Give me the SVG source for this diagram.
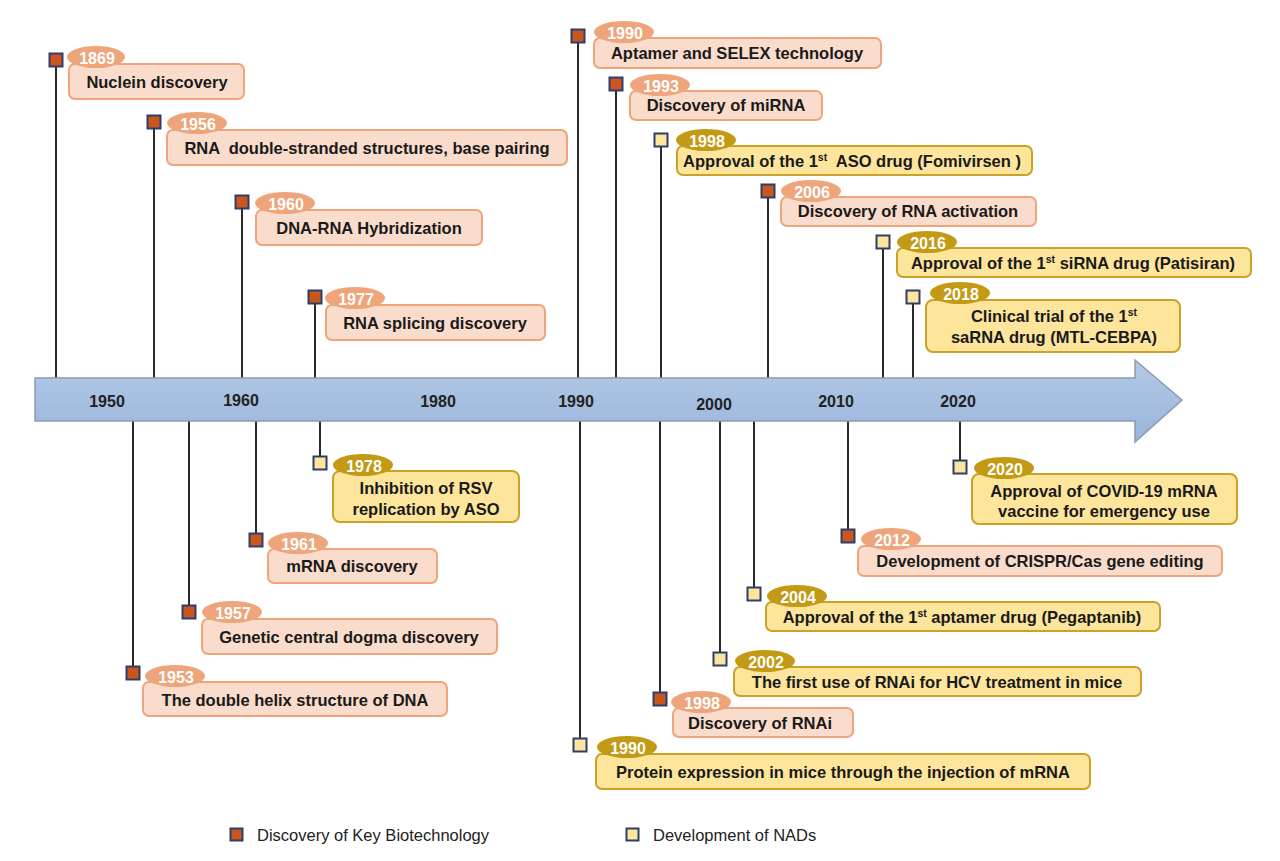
<svg xmlns="http://www.w3.org/2000/svg" width="1280" height="861" viewBox="0 0 1280 861">
<defs>
<linearGradient id="ag" x1="0" y1="0" x2="0" y2="1">
<stop offset="0" stop-color="#b3c9e6"/>
<stop offset="1" stop-color="#9ab5db"/>
</linearGradient>
</defs>
<style>
.t{font-family:"Liberation Sans",Arial,sans-serif;font-weight:bold;font-size:16.5px;fill:#1a1a1a;text-anchor:middle}
.ax{font-family:"Liberation Sans",Arial,sans-serif;font-weight:bold;font-size:16px;fill:#222;text-anchor:middle}
.yr{font-family:"Liberation Sans",Arial,sans-serif;font-weight:bold;font-size:16px;fill:#fff;text-anchor:middle}
.lg{font-family:"Liberation Sans",Arial,sans-serif;font-size:16.5px;fill:#222}
.bo{fill:#f9dccb;stroke:#efa47b;stroke-width:2}
.by{fill:#fde59c;stroke:#c9a227;stroke-width:2}
.po{fill:#efa57c}
.py{fill:#c39a15}
.mo{fill:#c9561c;stroke:#2e3e6c;stroke-width:2}
.my{fill:#fde59c;stroke:#2e3e6c;stroke-width:2}
.ln{stroke:#2a2a2a;stroke-width:2;fill:none}
.sup{font-size:10.5px}
</style>
<rect width="1280" height="861" fill="#fff"/>

<g id="connectors">
<path class="ln" d="M56,67V378M154,129V378M242,209V378M315,304V378M578,43V378M616,91V378M661,147V378M768,198V378M883,249V378M913,304V378"/>
<path class="ln" d="M320,421V456M256,421V533M189,421V605M133,421V666M580,421V738M660,421V692M720,421V652M754,421V587M848,421V529M960,421V460"/>
</g>

<g id="axis">
<path d="M35,378H1135V360L1182,400L1135,442V421H35Z" fill="url(#ag)" stroke="#8c9cb0" stroke-width="1.5"/>
<text class="ax" x="107" y="407">1950</text>
<text class="ax" x="241" y="406">1960</text>
<text class="ax" x="438" y="407">1980</text>
<text class="ax" x="576" y="407">1990</text>
<text class="ax" x="714" y="410">2000</text>
<text class="ax" x="836" y="407">2010</text>
<text class="ax" x="958" y="407">2020</text>
</g>

<g id="n1869">
<rect class="bo" x="69" y="64" width="175" height="35" rx="6"/>
<ellipse class="po" cx="96" cy="57" rx="29" ry="11"/>
<text class="yr" x="97" y="64">1869</text>
<text class="t" x="157" y="88">Nuclein discovery</text>
<rect class="mo" x="49.5" y="53.5" width="13" height="13"/>
</g>

<g id="n1956">
<rect class="bo" x="167" y="130" width="400" height="35" rx="6"/>
<ellipse class="po" cx="197" cy="123" rx="30" ry="11"/>
<text class="yr" x="198" y="130">1956</text>
<text class="t" x="367" y="154" xml:space="preserve">RNA  double-stranded structures, base pairing</text>
<rect class="mo" x="147.5" y="115.5" width="13" height="13"/>
</g>

<g id="n1960">
<rect class="bo" x="256" y="210" width="226" height="35" rx="6"/>
<ellipse class="po" cx="285" cy="203" rx="30" ry="11"/>
<text class="yr" x="286" y="210">1960</text>
<text class="t" x="369" y="234">DNA-RNA Hybridization</text>
<rect class="mo" x="235.5" y="195.5" width="13" height="13"/>
</g>

<g id="n1977">
<rect class="bo" x="326" y="305" width="219" height="35" rx="6"/>
<ellipse class="po" cx="355" cy="298" rx="30" ry="11"/>
<text class="yr" x="356" y="305">1977</text>
<text class="t" x="435" y="329">RNA splicing discovery</text>
<rect class="mo" x="308.5" y="290.5" width="13" height="13"/>
</g>

<g id="n1990a">
<rect class="bo" x="594" y="38" width="287" height="30" rx="6"/>
<ellipse class="po" cx="624" cy="32" rx="30" ry="11"/>
<text class="yr" x="625" y="39">1990</text>
<text class="t" x="737" y="59">Aptamer and SELEX technology</text>
<rect class="mo" x="571.5" y="29.5" width="13" height="13"/>
</g>

<g id="n1993">
<rect class="bo" x="630" y="91" width="192" height="29" rx="6"/>
<ellipse class="po" cx="660" cy="85" rx="30" ry="11"/>
<text class="yr" x="661" y="92">1993</text>
<text class="t" x="726" y="111">Discovery of miRNA</text>
<rect class="mo" x="609.5" y="77.5" width="13" height="13"/>
</g>

<g id="n1998a">
<rect class="by" x="677" y="146" width="355" height="29" rx="6"/>
<ellipse class="py" cx="706" cy="140" rx="30" ry="11"/>
<text class="yr" x="707" y="147">1998</text>
<text class="t" x="852" y="167" xml:space="preserve">Approval of the 1<tspan class="sup" dy="-6">st</tspan><tspan dy="6">  ASO drug (Fomivirsen )</tspan></text>
<rect class="my" x="654.5" y="133.5" width="13" height="13"/>
</g>

<g id="n2006">
<rect class="bo" x="781" y="197" width="255" height="29" rx="6"/>
<ellipse class="po" cx="811" cy="191" rx="30" ry="11"/>
<text class="yr" x="812" y="198">2006</text>
<text class="t" x="908" y="217">Discovery of RNA activation</text>
<rect class="mo" x="761.5" y="184.5" width="13" height="13"/>
</g>

<g id="n2016">
<rect class="by" x="897" y="248" width="354" height="29" rx="6"/>
<ellipse class="py" cx="927" cy="242" rx="30" ry="11"/>
<text class="yr" x="928" y="249">2016</text>
<text class="t" x="1073" y="269">Approval of the 1<tspan class="sup" dy="-6">st</tspan><tspan dy="6"> siRNA drug (Patisiran)</tspan></text>
<rect class="my" x="876.5" y="235.5" width="13" height="13"/>
</g>

<g id="n2018">
<rect class="by" x="926" y="300" width="254" height="52" rx="7"/>
<ellipse class="py" cx="960" cy="293" rx="30" ry="11"/>
<text class="yr" x="961" y="300">2018</text>
<text class="t" x="1054" y="322">Clinical trial of the 1<tspan class="sup" dy="-6">st</tspan></text>
<text class="t" x="1054" y="343">saRNA drug (MTL-CEBPA)</text>
<rect class="my" x="906.5" y="290.5" width="13" height="13"/>
</g>

<g id="n1978">
<rect class="by" x="333" y="471" width="186" height="51" rx="7"/>
<ellipse class="py" cx="363" cy="465" rx="30" ry="11"/>
<text class="yr" x="364" y="472">1978</text>
<text class="t" x="426" y="494">Inhibition of RSV</text>
<text class="t" x="426" y="515">replication by ASO</text>
<rect class="my" x="313.5" y="456.5" width="13" height="13"/>
</g>

<g id="n1961">
<rect class="bo" x="268" y="549" width="169" height="34" rx="6"/>
<ellipse class="po" cx="298" cy="543" rx="30" ry="11"/>
<text class="yr" x="299" y="550">1961</text>
<text class="t" x="352" y="572">mRNA discovery</text>
<rect class="mo" x="249.5" y="533.5" width="13" height="13"/>
</g>

<g id="n1957">
<rect class="bo" x="202" y="619" width="295" height="35" rx="6"/>
<ellipse class="po" cx="232" cy="612" rx="30" ry="11"/>
<text class="yr" x="233" y="619">1957</text>
<text class="t" x="349" y="643">Genetic central dogma discovery</text>
<rect class="mo" x="182.5" y="605.5" width="13" height="13"/>
</g>

<g id="n1953">
<rect class="bo" x="143" y="682" width="304" height="34" rx="6"/>
<ellipse class="po" cx="175" cy="676" rx="30" ry="11"/>
<text class="yr" x="176" y="683">1953</text>
<text class="t" x="295" y="706">The double helix structure of DNA</text>
<rect class="mo" x="126.5" y="666.5" width="13" height="13"/>
</g>

<g id="n1990b">
<rect class="by" x="596" y="754" width="494" height="35" rx="6"/>
<ellipse class="py" cx="627" cy="747" rx="30" ry="11"/>
<text class="yr" x="628" y="754">1990</text>
<text class="t" x="843" y="778">Protein expression in mice through the injection of mRNA</text>
<rect class="my" x="573.5" y="738.5" width="13" height="13"/>
</g>

<g id="n1998b">
<rect class="bo" x="673" y="708" width="180" height="29" rx="6"/>
<ellipse class="po" cx="701" cy="702" rx="30" ry="11"/>
<text class="yr" x="702" y="709">1998</text>
<text class="t" x="760" y="729">Discovery of RNAi</text>
<rect class="mo" x="653.5" y="692.5" width="13" height="13"/>
</g>

<g id="n2002">
<rect class="by" x="734" y="667" width="407" height="29" rx="6"/>
<ellipse class="py" cx="765" cy="661" rx="30" ry="11"/>
<text class="yr" x="766" y="668">2002</text>
<text class="t" x="937" y="688">The first use of RNAi for HCV treatment in mice</text>
<rect class="my" x="713.5" y="652.5" width="13" height="13"/>
</g>

<g id="n2004">
<rect class="by" x="766" y="602" width="394" height="29" rx="6"/>
<ellipse class="py" cx="797" cy="596" rx="30" ry="11"/>
<text class="yr" x="798" y="603">2004</text>
<text class="t" x="962" y="623">Approval of the 1<tspan class="sup" dy="-6">st</tspan><tspan dy="6"> aptamer drug (Pegaptanib)</tspan></text>
<rect class="my" x="747.5" y="587.5" width="13" height="13"/>
</g>

<g id="n2012">
<rect class="bo" x="858" y="546" width="364" height="30" rx="6"/>
<ellipse class="po" cx="891" cy="539" rx="30" ry="11"/>
<text class="yr" x="892" y="546">2012</text>
<text class="t" x="1040" y="567">Development of CRISPR/Cas gene editing</text>
<rect class="mo" x="841.5" y="529.5" width="13" height="13"/>
</g>

<g id="n2020">
<rect class="by" x="972" y="474" width="265" height="50" rx="7"/>
<ellipse class="py" cx="1004" cy="468" rx="30" ry="11"/>
<text class="yr" x="1005" y="475">2020</text>
<text class="t" x="1104" y="497">Approval of COVID-19 mRNA</text>
<text class="t" x="1104" y="517">vaccine for emergency use</text>
<rect class="my" x="953.5" y="460.5" width="13" height="13"/>
</g>

<g id="legend">
<rect class="mo" x="230.5" y="828.5" width="12" height="12"/>
<text class="lg" x="257" y="841">Discovery of Key Biotechnology</text>
<rect class="my" x="626.5" y="828.5" width="12" height="12"/>
<text class="lg" x="653" y="841">Development of NADs</text>
</g>
</svg>
